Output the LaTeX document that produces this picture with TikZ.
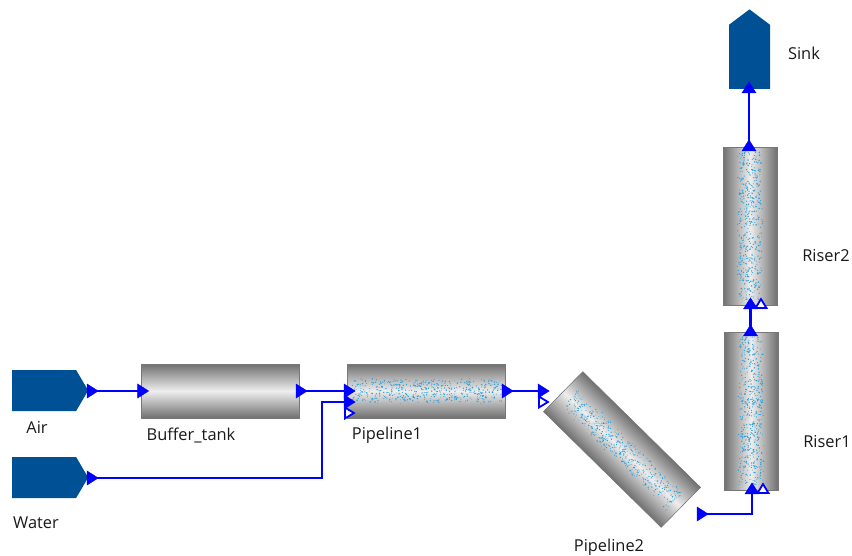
\documentclass[tikz,border=0pt]{standalone}
\usepackage{fontspec}
\setmainfont{Open Sans}
\usepackage{xcolor}
\usepackage{tikz}
\usetikzlibrary{calc,positioning,shapes.geometric,shapes.symbols}
\definecolor{portBlue}{RGB}{0,0,255}
\definecolor{sourceBlue}{RGB}{0,80,150}
\definecolor{pipeDark}{RGB}{112,112,112}
\definecolor{pipeLight}{RGB}{238,238,238}
\definecolor{pipeLine}{RGB}{120,120,120}
\definecolor{dotBlue}{RGB}{40,160,220}
\tikzset{
  pipeH/.style={draw=pipeLine, line width=0.6pt, inner sep=0pt, minimum width=158pt, minimum height=54pt,
    top color=pipeDark, bottom color=pipeDark, middle color=pipeLight},
  pipeV/.style={draw=pipeLine, line width=0.6pt, inner sep=0pt, minimum width=54pt, minimum height=158pt,
    left color=pipeDark, right color=pipeDark, middle color=pipeLight},
  portFull/.style={isosceles triangle, isosceles triangle stretches, inner sep=0pt, minimum height=11pt,
    minimum width=14pt, fill=portBlue, draw=portBlue, line width=0.4pt},
  portOpen/.style={isosceles triangle, isosceles triangle stretches, inner sep=0pt, minimum height=9pt,
    minimum width=11pt, fill=white, draw=portBlue, line width=1.8pt},
  flowLine/.style={portBlue, line width=2.6pt},
  srcBox/.style={signal, signal to=east, signal pointer angle=119, fill=sourceBlue, inner sep=0pt,
    minimum width=76pt, minimum height=41pt, anchor=west},
  lbl/.style={font=\fontsize{16.4}{18}\selectfont, text=black!90, inner sep=0pt}
}
\newcommand{\pipedots}[5]{%
  \begin{scope}[shift={(#1.center)}, rotate=#4]
  \foreach \i in {1,...,#5}{
    \pgfmathsetmacro{\px}{#2*rand}
    \pgfmathsetmacro{\py}{#3*(rand+0.15*rand)/1.15}
    \pgfmathsetmacro{\pr}{0.4+0.4*rnd}
    \fill[dotBlue] (\px,\py) circle (\pr pt);
  }
  \end{scope}
}
\begin{document}
\begin{tikzpicture}[x=1pt,y=-1pt]
\useasboundingbox (0,0) rectangle (852,555);
\pgfmathsetseed{4217}

\node[pipeH] (bufferTank) at (220,391) {};
\node[pipeH] (pipeOne) at (426.5,391) {};
\node[pipeV] (riserOne) at (751,411) {};
\node[pipeV] (riserTwo) at (750,226) {};
\coordinate (pipeTwo) at (622,449.5);
\begin{scope}[transform canvas={shift={(pipeTwo)},rotate=-44.5}]
\node[pipeH, minimum width=165pt, minimum height=56pt] (pipeTwoBody) at (0,0) {};
\end{scope}

\pipedots{pipeOne}{75}{13}{0}{520}
\pipedots{pipeTwo}{74}{13}{-44.5}{520}
\pipedots{riserOne}{74}{13}{90}{520}
\pipedots{riserTwo}{74}{13}{90}{520}

\node[srcBox] (airSrc) at (12,390.5) {};
\node[srcBox] (waterSrc) at (12,477.5) {};
\node[signal, signal to=north, signal pointer angle=106, fill=sourceBlue, inner sep=0pt,
  minimum width=41pt, minimum height=64pt, anchor=south] (sinkBox) at (749.5,89) {};

% ports
\node[portFull] (airOut) at (91,391) {};
\node[portFull] (waterOut) at (91,478) {};
\node[portFull] (bufferIn) at (141.5,391) {};
\node[portFull] (bufferOut) at (300,391) {};
\node[portFull] (pipeOneIn) at (348,391) {};
\node[portFull] (pipeOneWater) at (348,402) {};
\node[portOpen] (pipeOneOpen) at (348,413) {};
\node[portFull] (pipeOneOut) at (506,391) {};
\node[portFull] (pipeTwoIn) at (542,391) {};
\node[portOpen] (pipeTwoOpen) at (542,402) {};
\node[portFull] (pipeTwoOut) at (701,514) {};
\node[portFull, shape border rotate=90] (riserOneIn) at (752,490) {};
\node[portOpen, shape border rotate=90] (riserOneOpen) at (763,490) {};
\node[portFull, shape border rotate=90] (riserOneOut) at (750.5,332) {};
\node[portFull, shape border rotate=90] (riserTwoIn) at (750.5,305) {};
\node[portOpen, shape border rotate=90] (riserTwoOpen) at (761,305) {};
\node[portFull, shape border rotate=90] (riserTwoOut) at (749,147) {};
\node[portFull, shape border rotate=90] (sinkIn) at (749,89) {};
\coordinate (waterBend) at (322,478);

\draw[flowLine] (airOut.center)--(bufferIn.center);
\draw[flowLine] (bufferOut.center)--(pipeOneIn.center);
\draw[flowLine] (waterOut.center)--(waterBend)|-(pipeOneWater.center);
\draw[flowLine] (pipeOneOut.center)--(pipeTwoIn.center);
\draw[flowLine] (pipeTwoOut.center)-|(riserOneIn.center);
\draw[flowLine] (riserOneOut.center)--(riserTwoIn.center);
\draw[flowLine] (riserTwoOut.center)--(sinkIn.center);

\node[lbl] (airLbl) at (37,427) {Air};
\node[lbl] (waterLbl) at (36,523) {Water};
\node[lbl] (bufferLbl) at (191,435) {Buffer\_tank};
\node[lbl] (pipeOneLbl) at (387,435) {Pipeline1};
\node[lbl] (pipeTwoLbl) at (609,547) {Pipeline2};
\node[lbl] (riserOneLbl) at (827,442) {Riser1};
\node[lbl] (riserTwoLbl) at (826,256) {Riser2};
\node[lbl] (sinkLbl) at (804,53) {Sink};
\end{tikzpicture}
\end{document}
